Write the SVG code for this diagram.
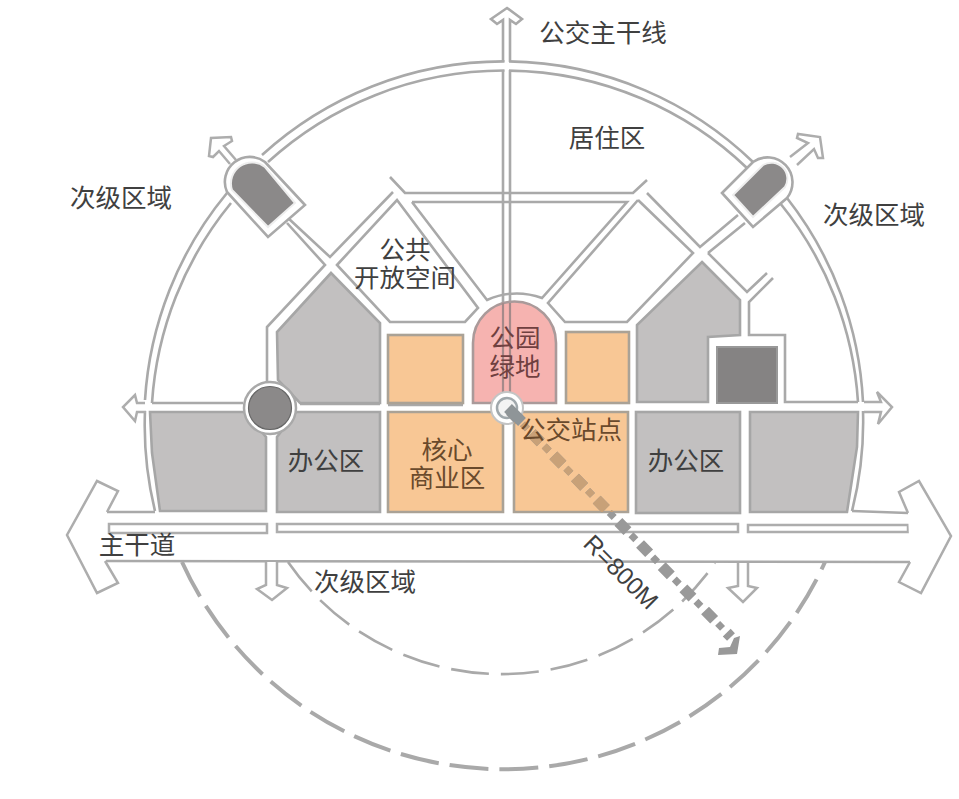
<svg xmlns="http://www.w3.org/2000/svg" width="959" height="799" viewBox="0 0 959 799">
<style>
.l{fill:none;stroke:#a9a9a9;stroke-width:2.6;stroke-linejoin:miter}
.a{fill:#fff;stroke:#adadad;stroke-width:2.5;stroke-linejoin:miter}
.g{fill:#c2c0c0;stroke:#a6a6a6;stroke-width:2.6}
.o{fill:#f8c795;stroke:#aaa296;stroke-width:2.6}
.d{fill:#8b8989;stroke:#eee;stroke-width:2}
.t{font-family:"Noto Sans CJK SC","Noto Sans",sans-serif;font-size:25.5px;fill:#404040;text-anchor:middle}
.b{fill:#6a4a2c}
.p{fill:#6f4040}
.r{fill:none;stroke:#999}
</style>
<defs><clipPath id="oc"><rect x="514" y="412" width="114" height="100"/></clipPath></defs>
<rect width="959" height="799" fill="#fff"/>
<g id="connectors">
<path class="l" d="M262 155A359 359 0 0 1 753 162M268 162A351 351 0 0 1 747 168"/>
<path class="l" d="M145 400A359 359 0 0 1 227 193M152 403A351 351 0 0 1 231 203"/>
<path class="l" d="M787 198A359 359 0 0 1 863 402M780 203A351 351 0 0 1 858 402"/>
<path class="l" d="M145 411A359 359 0 0 0 155 511M863 411A359 359 0 0 1 852 511"/>
<path class="l" d="M288 218L330 257L393 192M287 223L325 265L267 327V383"/>
<path class="l" d="M390 177L405 193H633L647 180M412 202H627L542 298Q514 288 487 300L412 202"/>
<path class="l" d="M337 265L397 200L478 308L465 322H390Z"/>
<path class="l" d="M638 200L548 303L565 322H627L693 253L638 200M647 193L700 247L738 215M708 253L745 223"/>
<path class="l" d="M708 253L747 292L767 273M773 278L749 302V335H785V402H858"/>
<path class="l" d="M152 403H243M300 404H380M388 405H463"/>
<path class="l" d="M107 512H155M852 511L908 513M106 561L910 562"/>
<path class="a" d="M109 524H267V533H109ZM277 524H738V532H277ZM748 525H908V532H748Z"/>
<path class="l" style="stroke-dasharray:38 12;stroke-width:2.6" d="M288 562A260 260 0 0 0 715 563"/>
<path class="l" style="stroke-dasharray:39 11;stroke-width:4" d="M182 562A353 353 0 0 0 825 562"/>
<path class="a" d="M107 512L118 491L97 481L67 535L97 593L118 583L105 561"/>
<path class="a" d="M908 513L899 492L919 481L951 536L921 593L899 582L910 562"/>
<path class="a" d="M266 562V585L257 589L272 600L287 588L277 585V562"/>
<path class="a" d="M738 563V586L728 588L743 602L757 588L748 586V563"/>
<path class="a" d="M145 403H137L135 395L123 407L135 421L137 412H146"/>
<path class="a" d="M864 402H881L877 392L892 407L878 424L881 412H864"/>
<path class="a" d="M236 160L224 146L232 141L231 137L211 138L209 156L213 157L219 151L230 164"/>
<path class="a" d="M790 157L808 143L797 138L798 134L820 137L823 158L818 158L814 149L797 165"/>
</g>
<g id="vertical-road">
<rect x="504.5" y="59" width="4.5" height="14" fill="#fff"/>
<path class="l" d="M503 62V20L497 24L491 19L507 8L522 19L516 24L510 20V62M503 70V400M510 70V400"/>
</g>
<g id="block-office-left-upper"><path class="g" d="M331 273L380 323V403H300L278 380L277 332Z"/></g>
<g id="block-office-right-upper"><path class="g" d="M702 262L740 300V335L708 337V402H637V325Z"/></g>
<g id="block-far-left"><path class="g" d="M150 412H245L266 437V511L160 511L152 453Z"/></g>
<g id="block-office-left"><path class="g" d="M296 412H380V512H277V437Z"/></g>
<g id="block-office-right"><rect class="g" x="636" y="412" width="104" height="101"/></g>
<g id="block-far-right"><path class="g" d="M750 412H858L857 447L847 512H750Z"/></g>
<g id="block-retail-tl"><rect class="o" x="388" y="335" width="75" height="68"/></g>
<g id="block-retail-tr"><rect class="o" x="566" y="332" width="63" height="71"/></g>
<g id="block-core"><path class="o" d="M388 412H503V512H388Z"/></g>
<g id="block-core-right"><path class="o" d="M514 412H628V512H514Z"/></g>
<g id="park"><path d="M473 343A41 41 0 0 1 556 343V403H473Z" fill="#f6b3b0" stroke="#aa9a9a" stroke-width="2.6"/><path d="M503 303V395M510 303V395" stroke="#a58a8a" stroke-width="2.2" fill="none"/></g>
<g id="dark-square"><rect x="717" y="347" width="60" height="56" fill="#858383" stroke="#999" stroke-width="2"/></g>
<g id="capsule-left">
<path d="M227 192A25 25 0 0 1 265 162L305 205L268 237Z" fill="#fff" stroke="#a9a9a9" stroke-width="2.6"/>
<path class="d" d="M232 190A21 21 0 0 1 265 167L295 203L268 227Z"/>
</g>
<g id="capsule-right">
<path d="M722 193L753 162A25 25 0 0 1 787 198L753 227Z" fill="#fff" stroke="#a9a9a9" stroke-width="2.6"/>
<path class="d" d="M733 195L763 165A16 16 0 0 1 785 187L753 217Z"/>
</g>
<g id="junction-left"><circle cx="270" cy="408" r="26" fill="#fff" stroke="#a9a9a9" stroke-width="2.5"/><circle cx="270" cy="408" r="21.5" fill="#8b8989" stroke="#666" stroke-width="1.2"/></g>
<g id="station"><circle cx="507" cy="408" r="16" fill="#fff" stroke="#c4c4c4" stroke-width="2"/><circle cx="507" cy="408" r="10" fill="#f4f4f4" stroke="#a0a8ac" stroke-width="2.5"/></g>
<g id="radius">
<path class="r" d="M510 411L731 637" stroke-width="11" stroke-dasharray="13 18"/>
<path class="r" d="M510 411L731 637" stroke-width="7" stroke-dasharray="7 24" stroke-dashoffset="-18"/>
<g clip-path="url(#oc)" style="stroke:#c8a178">
<path class="r" style="stroke:#c8a178" d="M510 411L731 637" stroke-width="11" stroke-dasharray="13 18"/>
<path class="r" style="stroke:#c8a178" d="M510 411L731 637" stroke-width="7" stroke-dasharray="7 24" stroke-dashoffset="-18"/>
</g>
<path d="M508 408L522 422" stroke="#8f9598" stroke-width="11" fill="none"/>
<path d="M740 636L737 654L718 655L719 648L730 647L734 638Z" fill="#999"/>
</g>
<g id="labels">
<text class="t" x="603" y="42">公交主干线</text>
<text class="t" x="607" y="147">居住区</text>
<text class="t" x="121" y="207">次级区域</text>
<text class="t" x="874" y="224">次级区域</text>
<text class="t" x="405" y="259">公共<tspan x="405" dy="28">开放空间</tspan></text>
<text class="t p" x="515" y="347">公园<tspan x="515" dy="29">绿地</tspan></text>
<text class="t b" x="571" y="439">公交站点</text>
<text class="t" x="326" y="470">办公区</text>
<text class="t b" x="447" y="459">核心<tspan x="447" dy="28">商业区</tspan></text>
<text class="t" x="686" y="470">办公区</text>
<text class="t" x="137" y="554">主干道</text>
<text class="t" x="365" y="591">次级区域</text>
<text transform="translate(582,545) rotate(45)" font-family="Liberation Sans,sans-serif" font-size="24.5" fill="#404040">R=800M</text>
</g>
</svg>
